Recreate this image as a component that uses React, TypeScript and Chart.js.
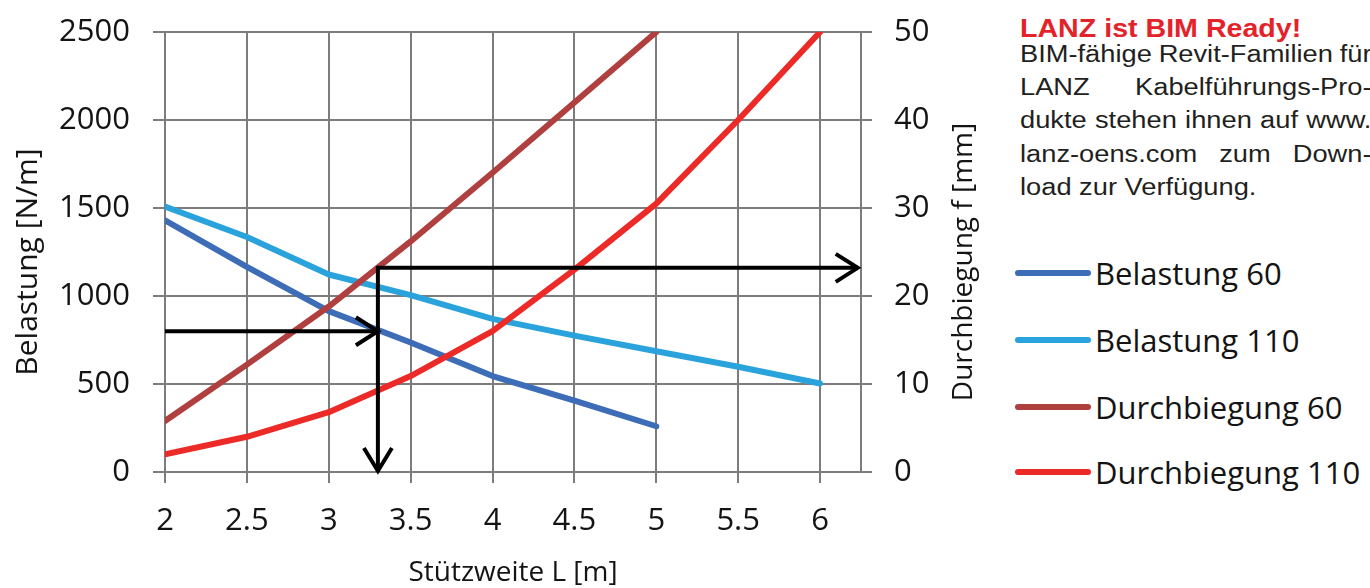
import React, { useEffect, useRef } from 'react';
import { Chart, registerables } from 'chart.js';

Chart.register(...registerables);

// ---------- data ----------
const spans = [2, 2.5, 3, 3.5, 4, 4.5, 5, 5.5, 6];
const belastung60 = [1430, 1165, 914, 736, 545, 405, 260];
const belastung110 = [1508, 1335, 1122, 1005, 870, 775, 686, 598, 503];
const durchbiegung60 = [5.8, 12.2, 18.8, 26.2, 34.0, 42.0, 50];
const durchbiegung110 = [2.0, 4.0, 6.8, 10.9, 16.0, 23.0, 30.5, 40.0, 50.0];

const seriesNames = ['Belastung 60', 'Belastung 110', 'Durchbiegung 60', 'Durchbiegung 110'];
const seriesColors = ['#3d6db6', '#2aa3dc', '#b0403f', '#ec2a28'];

const xTickLabels = ['2', '2.5', '3', '3.5', '4', '4.5', '5', '5.5', '6'];
const leftTickLabels = ['0', '500', '1000', '1500', '2000', '2500'];
const rightTickLabels = ['0', '10', '20', '30', '40', '50'];

// reading example (arrows)
const readingSpan = 3.3;
const readingLoad = 800;
const readingDeflection = 23.2;
const arrowStartSpan = 2;
const arrowEndSpan = 6.23;

const headingText = 'LANZ ist BIM Ready!';
const bodyLines = [
  ['BIM-fähige', 'Revit-Familien', 'für'],
  ['LANZ', 'Kabelführungs-Pro-'],
  ['dukte', 'stehen', 'ihnen', 'auf', 'www.'],
  ['lanz-oens.com', 'zum', 'Down-'],
  ['load zur Verfügung.'],
];

const GRID = '#7c7c7c';
const TXT = '#141414';
const FONT = '"Open Sans", "Noto Sans", sans-serif';

const pts = (xs: number[], ys: number[]) => ys.map((y, i) => ({ x: xs[i], y }));

const arrowHeadPlugin = {
  id: 'arrowHeads',
  afterDatasetsDraw(chart: any) {
    const { ctx, scales } = chart;
    const heads = [
      { x: readingSpan, y: readingLoad, axis: 'y', dir: 'right' },
      { x: readingSpan, y: 0, axis: 'y1', dir: 'down' },
      { x: arrowEndSpan, y: readingDeflection, axis: 'y1', dir: 'right' },
    ];
    ctx.save();
    ctx.strokeStyle = '#000';
    ctx.lineWidth = 4;
    ctx.lineCap = 'butt';
    ctx.lineJoin = 'miter';
    heads.forEach((h) => {
      const px = scales.x.getPixelForValue(h.x);
      const py = scales[h.axis].getPixelForValue(h.y);
      ctx.beginPath();
      if (h.dir === 'right') {
        ctx.moveTo(px - 22, py - 14);
        ctx.lineTo(px, py);
        ctx.lineTo(px - 22, py + 14);
      } else {
        ctx.moveTo(px - 14, py - 24);
        ctx.lineTo(px, py - 1);
        ctx.lineTo(px + 14, py - 24);
      }
      ctx.stroke();
    });
    ctx.restore();
  },
  afterDraw(chart: any) {
    const { ctx, chartArea } = chart;
    const cy = (chartArea.top + chartArea.bottom) / 2 + 10;
    ctx.save();
    ctx.fillStyle = TXT;
    ctx.textAlign = 'center';
    ctx.textBaseline = 'middle';
    ctx.translate(28, cy);
    ctx.rotate(-Math.PI / 2);
    ctx.font = `30px ${FONT}`;
    ctx.fillText('Belastung [N/m]', 0, 0);
    ctx.restore();
    ctx.save();
    ctx.fillStyle = TXT;
    ctx.textAlign = 'center';
    ctx.textBaseline = 'middle';
    ctx.translate(chartArea.right + 103, cy);
    ctx.rotate(-Math.PI / 2);
    ctx.font = `28px ${FONT}`;
    ctx.fillText('Durchbiegung f [mm]', 0, 0);
    ctx.restore();
  },
};

const noPadV = (w: number) => (s: any) => {
  s.width = w;
  s.paddingTop = 0;
  s.paddingBottom = 0;
};

export default function App() {
  const ref = useRef<HTMLCanvasElement | null>(null);

  useEffect(() => {
    if (!ref.current) return;
    const lineStyle = (i: number) => ({
      label: seriesNames[i],
      borderColor: seriesColors[i],
      backgroundColor: seriesColors[i],
      borderWidth: 6,
      pointRadius: 0,
      tension: 0,
      borderCapStyle: 'round' as const,
      borderJoinStyle: 'round' as const,
      fill: false,
    });
    const chart = new Chart(ref.current, {
      type: 'line',
      data: {
        datasets: [
          {
            label: 'arrow-load',
            data: [
              { x: arrowStartSpan, y: readingLoad },
              { x: readingSpan, y: readingLoad },
            ],
            yAxisID: 'y',
            borderColor: '#000',
            borderWidth: 4,
            pointRadius: 0,
            order: 0,
          },
          {
            label: 'arrow-deflection',
            data: [
              { x: arrowEndSpan, y: readingDeflection },
              { x: readingSpan, y: readingDeflection },
              { x: readingSpan, y: 0 },
            ],
            yAxisID: 'y1',
            borderColor: '#000',
            borderWidth: 4,
            pointRadius: 0,
            borderJoinStyle: 'miter',
            order: 0,
          },
          { ...lineStyle(3), data: pts(spans, durchbiegung110), yAxisID: 'y1', order: 1 },
          { ...lineStyle(2), data: pts(spans, durchbiegung60), yAxisID: 'y1', order: 2 },
          { ...lineStyle(1), data: pts(spans, belastung110), yAxisID: 'y', order: 3 },
          { ...lineStyle(0), data: pts(spans, belastung60), yAxisID: 'y', order: 4 },
        ],
      } as any,
      options: {
        animation: false,
        responsive: false,
        maintainAspectRatio: false,
        layout: { padding: { top: 32, left: 0, right: 0, bottom: 0 } },
        plugins: {
          legend: { display: false },
          tooltip: { enabled: false },
        },
        scales: {
          x: {
            type: 'linear',
            min: 2,
            max: 6.25,
            afterFit: (s: any) => {
              s.height = 116;
              s.paddingLeft = 0;
              s.paddingRight = 0;
            },
            ticks: {
              stepSize: 0.5,
              includeBounds: false,
              color: TXT,
              font: { family: FONT, size: 31 },
              padding: 20,
              maxRotation: 0,
              autoSkip: false,
              callback: (v: any) => {
                const i = spans.indexOf(Number(v));
                return i >= 0 ? xTickLabels[i] : '';
              },
            },
            grid: { color: GRID, lineWidth: 2, tickLength: 11 },
            border: { display: true, color: GRID, width: 2 },
            title: {
              display: true,
              text: 'Stützweite L [m]',
              color: TXT,
              font: { family: FONT, size: 28 },
              padding: { top: 0, bottom: -2 },
            },
          },
          y: {
            type: 'linear',
            position: 'left',
            min: 0,
            max: 2500,
            afterFit: noPadV(165),
            ticks: {
              stepSize: 500,
              color: TXT,
              font: { family: FONT, size: 31 },
              padding: 23,
              callback: (v: any) => leftTickLabels[Math.round(Number(v) / 500)] ?? '',
            },
            grid: { color: GRID, lineWidth: 2, tickLength: 12 },
            border: { display: true, color: GRID, width: 2 },
          },
          y1: {
            type: 'linear',
            position: 'right',
            min: 0,
            max: 50,
            afterFit: noPadV(139),
            ticks: {
              stepSize: 10,
              color: TXT,
              font: { family: FONT, size: 31 },
              padding: 22,
              callback: (v: any) => rightTickLabels[Math.round(Number(v) / 10)] ?? '',
            },
            grid: { color: GRID, lineWidth: 2, tickLength: 11, drawOnChartArea: false },
            border: { display: true, color: GRID, width: 2 },
          },
        },
      } as any,
      plugins: [arrowHeadPlugin],
    });
    return () => chart.destroy();
  }, []);

  const bodyTops = [43, 76, 109, 143, 176];
  const legendYs = [273, 340, 407, 472];

  return (
    <div
      style={{
        position: 'fixed',
        left: 0,
        top: 0,
        width: 1370,
        height: 588,
        overflow: 'hidden',
        background: '#fff',
      }}
    >
      <canvas ref={ref} width={1000} height={588} style={{ position: 'absolute', left: 0, top: 0 }} />
      <div
        style={{
          position: 'absolute',
          left: 1020,
          top: 15,
          font: 'bold 26px "Liberation Sans", Arial, sans-serif',
          lineHeight: '26px',
          color: '#e42229',
          whiteSpace: 'nowrap',
          transform: 'scaleX(1.10)',
          transformOrigin: 'left top',
        }}
      >
        {headingText}
      </div>
      {bodyLines.map((words, i) => (
        <div
          key={i}
          style={{
            position: 'absolute',
            left: 1020,
            top: bodyTops[i],
            width: 303,
            display: 'flex',
            justifyContent: words.length > 1 ? 'space-between' : 'flex-start',
            font: '23.5px "Liberation Sans", Arial, sans-serif',
            lineHeight: '23.5px',
            color: '#231f20',
            transform: 'scaleX(1.16)',
            transformOrigin: 'left top',
          }}
        >
          {words.map((w, j) => (
            <span key={j} style={{ whiteSpace: 'nowrap', flexShrink: 0 }}>
              {w}
            </span>
          ))}
        </div>
      ))}
      {seriesNames.map((name, i) => (
        <div
          key={name}
          style={{
            position: 'absolute',
            left: 1015,
            top: legendYs[i] - 20,
            height: 40,
            display: 'flex',
            alignItems: 'center',
            whiteSpace: 'nowrap',
          }}
        >
          <div style={{ width: 76, height: 6, borderRadius: 3, background: seriesColors[i] }} />
          <span
            style={{
              marginLeft: 4,
              font: `31px ${FONT}`,
              lineHeight: '40px',
              color: TXT,
            }}
          >
            {name}
          </span>
        </div>
      ))}
    </div>
  );
}
